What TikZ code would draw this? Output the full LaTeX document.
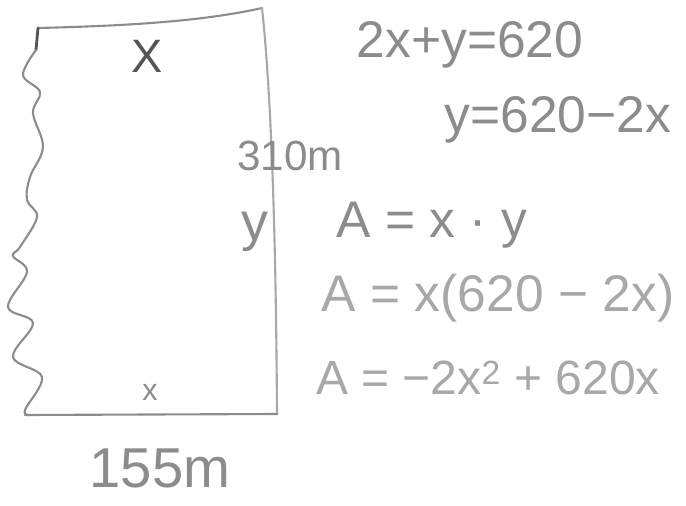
\documentclass[tikz,border=0pt]{standalone}
\usepackage{fontspec}
\setmainfont{Liberation Sans}
\definecolor{pencil}{HTML}{8C8C8C}
\definecolor{pencillight}{HTML}{A8A8A8}
\definecolor{pencildark}{HTML}{555555}
\begin{document}
\begin{tikzpicture}[x=0.03cm,y=-0.03cm,
  edge/.style={draw=pencil,line width=1.8pt,line cap=round,line join=round},
  hand/.style={text=pencil,inner sep=0pt,font=\fontsize{44}{48}\selectfont},
  handlight/.style={hand,text=pencillight}]
\useasboundingbox (0,0) rectangle (686,506);
% corners
\coordinate (tl) at (38,28);
\coordinate (tr) at (262,8);
\coordinate (br) at (277,414);
\coordinate (bl) at (25,415);
\coordinate (tick) at (36,50);
% edges
\draw[edge] (tl) .. controls (120,26) and (200,22) .. (tr);
\draw[edge,draw=pencillight] (tr) .. controls (272,100) and (276,250) .. (br);
\draw[edge] (bl) -- (br);
\draw[edge,draw=pencildark,line width=2.4pt] (tl) -- (tick);
\draw[edge] plot[smooth,tension=0.6] coordinates {(36,50) (23,75) (40,92) (33,113) (43,147) (30,177) (27,200) (37,217) (20,247) (13,256) (27,272) (8,307) (33,323) (13,357) (42,377) (25,410) (30,415)};
% labels on figure
\node[hand,text=pencildark,font=\fontsize{40}{44}\selectfont] (xtop) at (147,56) {X};
\node[hand,font=\fontsize{26}{30}\selectfont] (xbot) at (150,392) {x};
\node[hand,font=\fontsize{48}{52}\selectfont] (len) at (160,468) {155m};
\node[hand,font=\fontsize{36}{40}\selectfont] (wid) at (290,156) {310m};
\node[hand,font=\fontsize{46}{50}\selectfont] (yside) at (255,232) {y};
% equations
\node[hand] (e1) at (470,45) {2x+y=620};
\node[hand] (e2) at (558,120) {y=620−2x};
\node[hand] (e3) at (432,225) {A = x · y};
\node[handlight] (e4) at (498,298) {A = x(620 − 2x)};
\node[handlight,font=\fontsize{41}{45}\selectfont] (e5) at (488,378) {A = −2x\textsuperscript{2} + 620x};
\end{tikzpicture}
\end{document}
